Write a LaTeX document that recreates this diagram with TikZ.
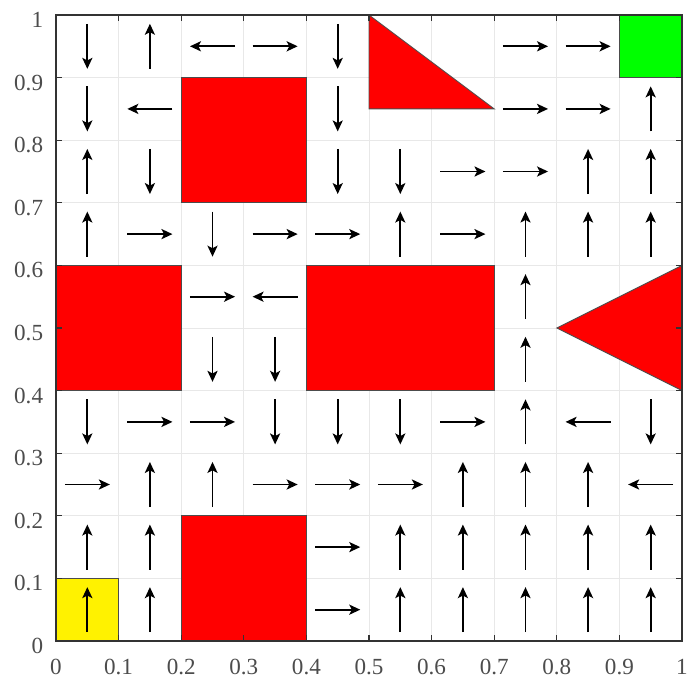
\documentclass[tikz,border=0pt]{standalone}
\usepackage{fontspec}
\setmainfont{Liberation Serif}
\usetikzlibrary{arrows.meta}

\begin{document}
\begin{tikzpicture}[
    % Uma unidade = lado do mapa
    x=10cm, y=10cm,
    gridline/.style={draw=gray!18, line width=0.4pt},
    frame/.style={draw=black!80, line width=0.6pt},
    % Obstáculos e células especiais
    obstacle/.style={fill=red, draw=black!70, line width=0.4pt},
    start/.style={fill=yellow, draw=black!70, line width=0.4pt},
    goal/.style={fill=green, draw=black!70, line width=0.4pt},
    % Setas da política
    move/.style={-{Stealth[length=5pt,width=4.6pt,inset=1.2pt]}, line width=0.8pt},
    ticklabel/.style={font=\fontsize{10.5}{12}\selectfont, text=black!70, inner sep=0pt}
]
\useasboundingbox (-0.0895,-0.059) rectangle (1.008,1.024);

% 1. Grelha
\foreach \i in {1,...,9} {
    \draw[gridline] (\i/10,0) -- (\i/10,1);
    \draw[gridline] (0,\i/10) -- (1,\i/10);
}

% 2. Obstáculos
\draw[obstacle] (0.5,1) -- (0.5,0.85) -- (0.7,0.85) -- cycle;
\draw[obstacle] (0.2,0.7) rectangle (0.4,0.9);
\draw[obstacle] (0,0.4) rectangle (0.2,0.6);
\draw[obstacle] (0.4,0.4) rectangle (0.7,0.6);
\draw[obstacle] (1,0.6) -- (0.8,0.5) -- (1,0.4) -- cycle;
\draw[obstacle] (0.2,0) rectangle (0.4,0.2);

% 3. Início e objetivo
\draw[start] (0,0) rectangle (0.1,0.1);
\draw[goal] (0.9,0.9) rectangle (1,1);

% 4. Setas (coluna/linha)
% para cima
\foreach \c/\r in {1/9, 9/8, 0/7, 8/7, 9/7, 0/6, 5/6, 7/6, 8/6, 9/6, 7/5, 7/4, 7/3,
    1/2, 2/2, 6/2, 7/2, 8/2, 0/1, 1/1, 5/1, 6/1, 7/1, 8/1, 9/1,
    0/0, 1/0, 5/0, 6/0, 7/0, 8/0, 9/0}
    \draw[move] (\c/10+0.05,\r/10+0.014) -- ++(0,0.072);
% para baixo
\foreach \c/\r in {0/9, 4/9, 0/8, 4/8, 1/7, 4/7, 5/7, 2/6, 2/4, 3/4,
    0/3, 3/3, 4/3, 5/3, 9/3}
    \draw[move] (\c/10+0.05,\r/10+0.086) -- ++(0,-0.072);
% para a esquerda
\foreach \c/\r in {2/9, 1/8, 3/5, 8/3, 9/2}
    \draw[move] (\c/10+0.086,\r/10+0.05) -- ++(-0.072,0);
% para a direita
\foreach \c/\r in {3/9, 7/9, 8/9, 7/8, 8/8, 6/7, 7/7, 1/6, 3/6, 4/6, 6/6, 2/5,
    1/3, 2/3, 6/3, 0/2, 3/2, 4/2, 5/2, 4/1, 4/0}
    \draw[move] (\c/10+0.014,\r/10+0.05) -- ++(0.072,0);

% 5. Moldura e marcas
\draw[frame] (0,0) rectangle (1,1);
\foreach \i in {1,...,9} {
    \draw[frame] (\i/10,0) -- ++(0,0.01);
    \draw[frame] (\i/10,1) -- ++(0,-0.01);
    \draw[frame] (0,\i/10) -- ++(0.01,0);
    \draw[frame] (1,\i/10) -- ++(-0.01,0);
}

% 6. Rótulos dos eixos
\foreach \i/\lab in {0/0, 1/0.1, 2/0.2, 3/0.3, 4/0.4, 5/0.5, 6/0.6, 7/0.7, 8/0.8, 9/0.9, 10/1} {
    \node[ticklabel] (xlab\i) at (\i/10,-0.042) {\lab};
    \node[ticklabel, anchor=east] (ylab\i) at (-0.02,\i/10-0.008) {\lab};
}

\end{tikzpicture}
\end{document}
